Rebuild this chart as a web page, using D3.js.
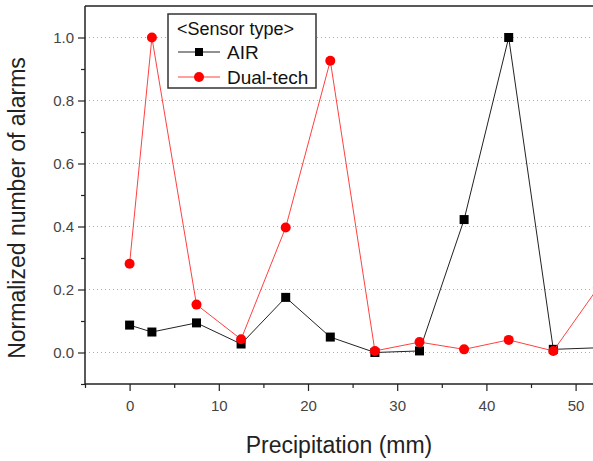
<!DOCTYPE html>
<html>
<head>
<meta charset="utf-8">
<script src="https://cdn.jsdelivr.net/npm/d3@7"></script>
<style>
  body { margin: 0; background: #fff; }
  text { font-family: Arial, "Liberation Sans", sans-serif; }
</style>
</head>
<body>
<div id="plot"></div>
<script>
// data
const precip = [0, 2.5, 7.5, 12.5, 17.5, 22.5, 27.5, 32.5, 37.5, 42.5, 47.5, 52.5]
const airValues = [0.087, 0.065, 0.094, 0.027, 0.175, 0.049, 0.0, 0.005, 0.422, 1.0, 0.01, 0.015]
const dualValues = [0.282, 1.0, 0.152, 0.042, 0.397, 0.926, 0.005, 0.033, 0.01, 0.04, 0.005, 0.205]
const xTicks = [0, 10, 20, 30, 40, 50]
const yTicks = [0.0, 0.2, 0.4, 0.6, 0.8, 1.0]
const seriesNames = ['AIR', 'Dual-tech']

const width = 593, height = 461
const plotLeft = 85, plotTop = 6, plotBottom = 384

const svg = d3.select('#plot').append('svg')
  .attr('width', width).attr('height', height)

const x = d3.scaleLinear().domain([-5, 55]).range([plotLeft, plotLeft + 60 * 8.92])
const y = d3.scaleLinear().domain([-0.1, 1.1]).range([plotBottom, plotTop])

// dotted grid
svg.append('g').selectAll('line').data(yTicks).enter().append('line')
  .attr('x1', plotLeft).attr('x2', width)
  .attr('y1', d => y(d)).attr('y2', d => y(d))
  .attr('stroke', '#aaa').attr('stroke-width', 1)
  .attr('stroke-dasharray', '1,3')

// axes
svg.append('g').attr('transform', 'translate(0,' + plotBottom + ')')
  .call(d3.axisBottom(x).tickValues(xTicks).tickSize(7).tickPadding(9).tickFormat(d3.format('d')))
svg.append('g').attr('transform', 'translate(0,' + plotBottom + ')')
  .call(d3.axisBottom(x).tickValues(d3.range(-5, 56, 10)).tickSize(4).tickFormat(''))

svg.append('g').attr('transform', 'translate(' + plotLeft + ',0)')
  .call(d3.axisLeft(y).tickValues(yTicks).tickSize(7).tickPadding(4).tickFormat(d3.format('.1f')))
svg.append('g').attr('transform', 'translate(' + plotLeft + ',0)')
  .call(d3.axisLeft(y).tickValues([-0.1, 0.1, 0.3, 0.5, 0.7, 0.9]).tickSize(4).tickFormat(''))

svg.selectAll('.domain').remove()
svg.selectAll('.tick line').attr('stroke', '#222').attr('stroke-width', 1.2)
svg.selectAll('.tick text').attr('fill', '#444').style('font-size', '15px')

// spines
svg.append('line').attr('x1', plotLeft).attr('x2', width).attr('y1', plotBottom).attr('y2', plotBottom)
  .attr('stroke', '#222').attr('stroke-width', 1.5)
svg.append('line').attr('x1', plotLeft).attr('x2', plotLeft).attr('y1', plotTop).attr('y2', plotBottom)
  .attr('stroke', '#222').attr('stroke-width', 1.5)
svg.append('line').attr('x1', plotLeft).attr('x2', width).attr('y1', plotTop).attr('y2', plotTop)
  .attr('stroke', '#222').attr('stroke-width', 1.5)

// titles
svg.append('text').attr('x', 339).attr('y', 453).attr('text-anchor', 'middle')
  .attr('fill', '#222').style('font-size', '23px').text('Precipitation (mm)')
svg.append('text').attr('transform', 'translate(25,208) rotate(-90)').attr('text-anchor', 'middle')
  .attr('fill', '#222').style('font-size', '23px').text('Normalized number of alarms')

const line = d3.line().x(d => x(d[0])).y(d => y(d[1]))
const airPts = precip.map((p, i) => [p, airValues[i]])
const dualPts = precip.map((p, i) => [p, dualValues[i]])

const plot = svg.append('g')

plot.append('path').datum(airPts).attr('d', line)
  .attr('fill', 'none').attr('stroke', '#222').attr('stroke-width', 1)
plot.selectAll('.sq').data(airPts).enter().append('rect')
  .attr('x', d => x(d[0]) - 4.5).attr('y', d => y(d[1]) - 4.5)
  .attr('width', 9).attr('height', 9).attr('fill', '#000')

plot.append('path').datum(dualPts).attr('d', line)
  .attr('fill', 'none').attr('stroke', '#ff4040').attr('stroke-width', 1)
plot.selectAll('.dot').data(dualPts).enter().append('circle')
  .attr('cx', d => x(d[0])).attr('cy', d => y(d[1])).attr('r', 5)
  .attr('fill', '#ff0000')

// legend
const lg = svg.append('g')
lg.append('rect').attr('x', 168).attr('y', 14).attr('width', 148).attr('height', 74)
  .attr('fill', '#fff').attr('stroke', '#333').attr('stroke-width', 1.5)
lg.append('text').attr('x', 177).attr('y', 35).style('font-size', '18px').attr('fill', '#111')
  .text('<Sensor type>')
const colors = ['#222', '#ff4040']
seriesNames.forEach((name, i) => {
  const cy = 52 + i * 25
  lg.append('line').attr('x1', 178).attr('x2', 220).attr('y1', cy).attr('y2', cy)
    .attr('stroke', colors[i]).attr('stroke-width', 1)
  if (i === 0) {
    lg.append('rect').attr('x', 195).attr('y', cy - 4).attr('width', 8).attr('height', 8).attr('fill', '#000')
  } else {
    lg.append('circle').attr('cx', 199).attr('cy', cy).attr('r', 5).attr('fill', '#ff0000')
  }
  lg.append('text').attr('x', 227).attr('y', cy + 7).style('font-size', '19px').attr('fill', '#111')
    .text(name)
})
</script>
</body>
</html>
